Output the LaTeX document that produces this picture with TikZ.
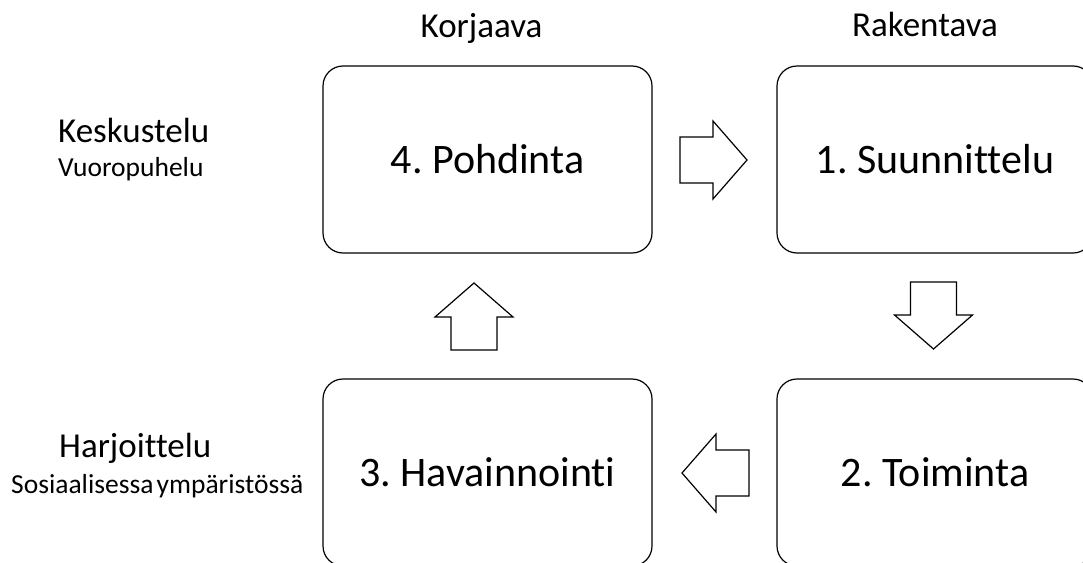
\documentclass[tikz,border=0pt]{standalone}
\usepackage{fontspec}
\setmainfont[Ligatures=NoCommon]{Carlito}
\frenchspacing
\begin{document}
\begin{tikzpicture}[x=1pt,y=-1pt,
  stage/.style={draw, line width=1.2pt, rounded corners=20pt, inner sep=0pt,
    minimum height=187pt, font=\fontsize{42}{46}\selectfont},
  head/.style={anchor=base, inner sep=0pt, font=\fontsize{35}{40}\selectfont},
  mode/.style={anchor=base west, inner sep=0pt, font=\fontsize{35}{40}\selectfont},
  submode/.style={anchor=base west, inner sep=0pt, font=\fontsize{27.5}{32}\selectfont},
  arrowline/.style={draw, line width=1.2pt, line join=miter},
  blockarrow/.pic={\path[arrowline] (-33,-23) -- (0,-23) -- (0,-39) -- (34,0)
    -- (0,39) -- (0,23) -- (-33,23) -- cycle;}]
\useasboundingbox (0,0) rectangle (1083,562);

% the four stages of the cycle
\node[stage, minimum width=329pt] (pohdinta) at (487.5,159.5) {4. Pohdinta};
\node[stage, minimum width=316pt] (suunnittelu) at (935,159.5) {1. Suunnittelu};
\node[stage, minimum width=316pt] (toiminta) at (935,472.5) {2. Toiminta};
\node[stage, minimum width=329pt] (havainnointi) at (487.5,472.5) {3. Havainnointi};

% column headings
\node[head] (korjaava) at (481.5,37) {Korjaava};
\node[head] (rakentava) at (925,36) {Rakentava};

% row labels
\node[mode] (keskustelu) at (58,142) {Keskustelu};
\node[submode] (vuoropuhelu) at (58,176) {Vuoropuhelu};
\node[mode] (harjoittelu) at (59,457) {Harjoittelu};
\node[submode] (sosiaalinen) at (11,493) {Sosiaalisessa\hspace{0.12em}ympäristössä};

% block arrows between the stages
\coordinate (a41) at (713,160);
\coordinate (a12) at (933.5,315);
\coordinate (a23) at (716,473);
\coordinate (a34) at (474,317);
\pic at (a41) {blockarrow};
\pic[rotate=-90] at (a12) {blockarrow};
\pic[rotate=180] at (a23) {blockarrow};
\pic[rotate=90] at (a34) {blockarrow};
\end{tikzpicture}
\end{document}
